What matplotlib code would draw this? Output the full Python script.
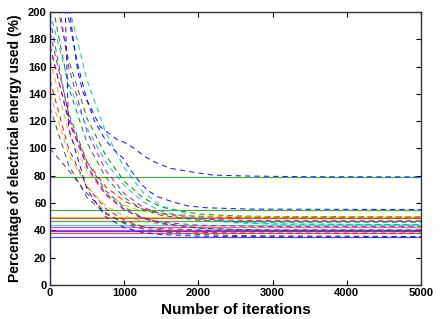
import matplotlib
matplotlib.use("Agg")
import matplotlib.pyplot as plt

plt.rcParams['font.family'] = ['Liberation Sans', 'DejaVu Sans']

# MATLAB-like colour order
C = {'b': (0, 0, 1), 'g': (0, 0.5, 0), 'r': (1, 0, 0), 'c': (0, 0.75, 0.75),
     'm': (0.75, 0, 0.75), 'y': (0.75, 0.75, 0), 'k': (0.25, 0.25, 0.25)}

# shared iteration grid for most dashed curves
iters = [0, 250, 500, 750, 1000, 1250, 1500, 2000, 2500, 3000, 5000]

g1 = [230, 165, 122, 95, 76, 64, 57, 52, 50.6, 50.2, 50.0]
c1 = [300, 205, 150, 112, 86, 68, 58, 49.5, 46, 44.8, 44.2]
m1 = [250, 160, 112, 84, 67, 57, 52, 48.4, 47.4, 47.1, 47.0]
g2 = [215, 145, 104, 79, 64, 55.5, 51, 47.5, 46.4, 46.1, 46.0]
r1 = [175, 121, 90, 72, 61.5, 55.5, 52.5, 50.1, 49.3, 49.1, 49.0]
m2 = [195, 124, 86, 66, 55, 49, 46, 43.8, 43.2, 42.8, 42.7]
y1 = [165, 112, 83, 67, 58.5, 54, 52, 50.6, 50.2, 50.0, 50.0]
c2 = [200, 148, 115, 90, 73, 61, 54, 48, 45.5, 44.6, 44.2]
g3 = [185, 126, 90, 69, 57, 49.5, 45.5, 41.7, 40.6, 40.2, 40.0]
r2 = [150, 100, 72, 56, 47.5, 42.8, 40.3, 38.6, 38.1, 38.0, 38.0]
y2 = [140, 96, 72, 58, 50.5, 46.5, 44.4, 42.7, 42.2, 42.1, 42.0]
k1 = [130, 88, 64, 52, 45.8, 42.7, 41.3, 40.3, 40.1, 40.0, 40.0]
k2 = [100, 84, 67, 53, 45, 41, 39, 37, 36.3, 36.0, 35.5]
m3 = [175, 120, 87, 67, 55.5, 48.8, 45, 41.6, 40.7, 40.4, 40.4]

# blue curves with their own iteration samples
bA_iters = [0, 270, 337, 377, 445, 540, 607, 674, 903, 984, 1119, 1280, 1415, 1617, 1887, 2197, 2700, 3500, 5000]
bA_vals = [290, 198, 170, 156, 141, 131, 123.5, 116, 106.6, 105, 100.7, 94, 90, 85.5, 83, 80.5, 79.8, 79.3, 79.2]

bB_iters = [0, 240, 380, 500, 600, 750, 900, 984, 1090, 1200, 1310, 1450, 1620, 1850, 2100, 2700, 5000]
bB_vals = [290, 198, 160, 135, 120, 106, 97, 93, 84, 76, 69.5, 64.7, 61.5, 58, 56.6, 55.6, 55.3]

bC_iters = [0, 1, 250, 500, 750, 1000, 1250, 1500, 2000, 2500, 3000, 5000]
bC_vals = [0, 600, 115, 70, 50, 42, 38.5, 37, 35.8, 35.5, 35.3, 35.3]

dashed = [
    (bC_iters, bC_vals, 'b'), (iters, g1, 'g'), (iters, r1, 'r'), (iters, c1, 'c'),
    (iters, m1, 'm'), (iters, y1, 'y'), (iters, k1, 'k'), (bA_iters, bA_vals, 'b'),
    (iters, g2, 'g'), (iters, r2, 'r'), (iters, c2, 'c'), (iters, m2, 'm'),
    (iters, y2, 'y'), (iters, k2, 'k'), (bB_iters, bB_vals, 'b'), (iters, g3, 'g'),
    (iters, m3, 'm'),
]

# converged (solid) levels
levels = [79.2, 55.3, 50.0, 49.0, 47.0, 44.2, 42.7, 40.4, 39.8, 38.0, 35.3]
level_colors = ['g', 'g', 'y', 'r', 'g', 'c', 'm', 'm', 'b', 'r', 'b']
x_span = [0, 5000]

fig = plt.figure(figsize=(4.43, 3.19), dpi=100)
ax = fig.add_axes([0.1129, 0.1066, 0.8374, 0.8558])

for lv, lc in zip(levels, level_colors):
    ax.plot(x_span, [lv, lv], '-', color=C[lc], lw=0.9, alpha=0.7)

for i, (xs, ys, col) in enumerate(dashed):
    ax.plot(xs, ys, '--', color=C[col], lw=0.75, dashes=(5, 4), alpha=0.9,
            zorder=3 if i == 0 else 2)

ax.set_xlim(0, 5000)
ax.set_ylim(0, 200)
ax.set_xticks(range(0, 5001, 1000))
ax.set_yticks(range(0, 201, 20))
ax.tick_params(direction='in', length=3.5, width=0.8, top=True, right=True,
               labelsize=8, pad=2.5)
for lab in ax.get_xticklabels() + ax.get_yticklabels():
    lab.set_fontweight('bold')
for s in ax.spines.values():
    s.set_linewidth(1.0)
    s.set_color('#333333')

ax.set_xlabel('Number of iterations', fontsize=11, fontweight='bold', labelpad=3)
ax.set_ylabel('Percentage of electrical energy used (%)', fontsize=10,
              fontweight='bold', labelpad=4)

fig.savefig('out.png', dpi=100)
